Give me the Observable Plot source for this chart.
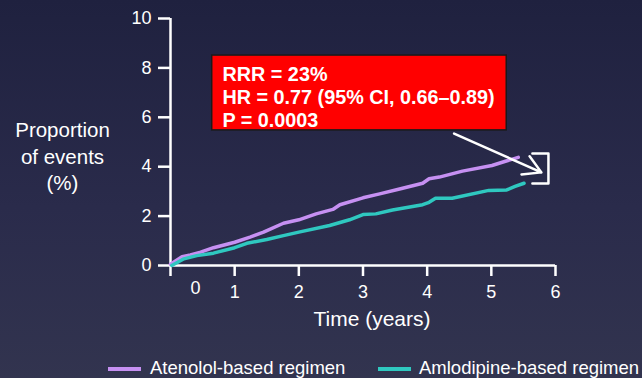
<!DOCTYPE html>
<html><head><meta charset="utf-8">
<script src="https://cdn.jsdelivr.net/npm/d3@7"></script>
<script src="https://cdn.jsdelivr.net/npm/@observablehq/plot@0.6"></script>
<style>
html,body{margin:0;padding:0;}
#wrap{position:relative;width:642px;height:378px;overflow:hidden;
 background:linear-gradient(180deg,#1f213f 0%,#2a2b4b 55%,#32344f 100%);
 font-family:"Liberation Sans",Arial,sans-serif;color:#fff;}
#chart{position:absolute;left:0;top:0;}
#ylab{position:absolute;left:0;top:117px;width:125px;text-align:center;font-size:20.5px;line-height:26.5px;}
#legend{position:absolute;top:357px;left:0;width:700px;height:22px;font-size:18.5px;white-space:nowrap;}
.sw{position:absolute;top:10px;width:33px;height:4px;}
.lt{position:absolute;top:0;line-height:22px;}
</style></head>
<body><div id="wrap"><div id="chart"></div>
<div id="ylab">Proportion<br>of events<br>(%)</div>
<div id="legend"></div></div>
<script>
const seriesNames = ["Atenolol-based regimen", "Amlodipine-based regimen"];
const seriesColors = ["#c690f2", "#2fc8c0"];
const atenololT = [0,0.18,0.31,0.47,0.67,1.0,1.24,1.45,1.76,2.0,2.27,2.53,2.64,3.0,3.26,3.57,3.93,4.03,4.19,4.55,5.01,5.22,5.42];
const atenololV = [0.05,0.36,0.43,0.54,0.72,0.94,1.15,1.35,1.71,1.85,2.09,2.27,2.46,2.74,2.90,3.10,3.33,3.51,3.58,3.82,4.05,4.22,4.38];
const amlodipineT = [0.02,0.21,0.41,0.67,1.0,1.19,1.5,1.76,2.0,2.48,2.79,3.0,3.2,3.46,3.93,4.03,4.13,4.39,4.96,5.24,5.37,5.51];
const amlodipineV = [0,0.27,0.40,0.50,0.72,0.90,1.05,1.21,1.35,1.62,1.85,2.06,2.09,2.25,2.46,2.56,2.72,2.72,3.04,3.06,3.20,3.33];
const xTicks = [0,1,2,3,4,5,6];
const yTicks = [0,2,4,6,8,10];
const zeroLabel = [{x:0.39, label:"0"}];
const boxLines = ["RRR = 23%", "HR = 0.77 (95% CI, 0.66–0.89)", "P = 0.0003"];
const boxRect = [{x1:0.65, x2:5.24, y1:5.47, y2:8.5}];
const boxText = [{x:0.81, y:6.84}];
const arrowData = [{x1:4.42, y1:5.34, x2:5.78, y2:3.77}];
const bracket = [{x:5.64,y:4.53},{x:5.89,y:4.53},{x:5.89,y:3.32},{x:5.64,y:3.32}];

const data = [
  ...atenololT.map((t,i)=>({t, v:atenololV[i], s:seriesNames[0]})),
  ...amlodipineT.map((t,i)=>({t, v:amlodipineV[i], s:seriesNames[1]}))
];

const plot = Plot.plot({
  width:642, height:345,
  marginLeft:170, marginRight:87, marginTop:18, marginBottom:80,
  style:{background:"transparent", color:"#fff", fontFamily:"'Liberation Sans',Arial,sans-serif", fontSize:"18px"},
  x:{domain:[0,6]},
  y:{domain:[0,10]},
  color:{domain:seriesNames, range:seriesColors},
  marks:[
    Plot.axisY({ticks:yTicks, tickFormat:"d", tickSize:12, tickPadding:7, stroke:"#fff", strokeWidth:2.5, label:null, fontSize:18}),
    Plot.axisX({ticks:xTicks, tickFormat:d=>d===0?"":String(d), tickSize:11, tickPadding:9, stroke:"#fff", strokeWidth:2.5, label:null, fontSize:18}),
    Plot.text(zeroLabel, {x:"x", text:"label", frameAnchor:"bottom", dy:28, fill:"#fff", fontSize:18}),
    Plot.text(["Time (years)"], {x:3.14, frameAnchor:"bottom", dy:60, text:d=>d, fill:"#fff", fontSize:21}),
    Plot.ruleY([0], {x1:0, x2:6, stroke:"#fff", strokeWidth:2.5}),
    Plot.ruleX([0], {y1:0, y2:10, stroke:"#fff", strokeWidth:2.5}),
    Plot.line(data, {x:"t", y:"v", z:"s", stroke:"s", strokeWidth:3.5}),
    Plot.rect(boxRect, {x1:"x1", x2:"x2", y1:"y1", y2:"y2", fill:"#ff0000", stroke:"#1a1a1a", strokeWidth:1.5}),
    Plot.text(boxText, {x:"x", y:"y", text:()=>boxLines.join("\n"), textAnchor:"start", lineAnchor:"middle", lineHeight:1.18, fill:"#fff", fontWeight:"bold", fontSize:19.8}),
    Plot.arrow(arrowData, {x1:"x1", y1:"y1", x2:"x2", y2:"y2", stroke:"#fff", strokeWidth:2.5, headLength:12}),
    Plot.line(bracket, {x:"x", y:"y", stroke:"#fff", strokeWidth:2.5, curve:"linear"})
  ]
});
document.getElementById("chart").appendChild(plot);

const legend = document.getElementById("legend");
const swX = [108, 378], txX = [150, 419];
seriesNames.forEach((n,i)=>{
  const s=document.createElement("div"); s.className="sw"; s.style.left=swX[i]+"px"; s.style.background=seriesColors[i]; legend.appendChild(s);
  const t=document.createElement("div"); t.className="lt"; t.style.left=txX[i]+"px"; t.textContent=n; legend.appendChild(t);
});
</script></body></html>
